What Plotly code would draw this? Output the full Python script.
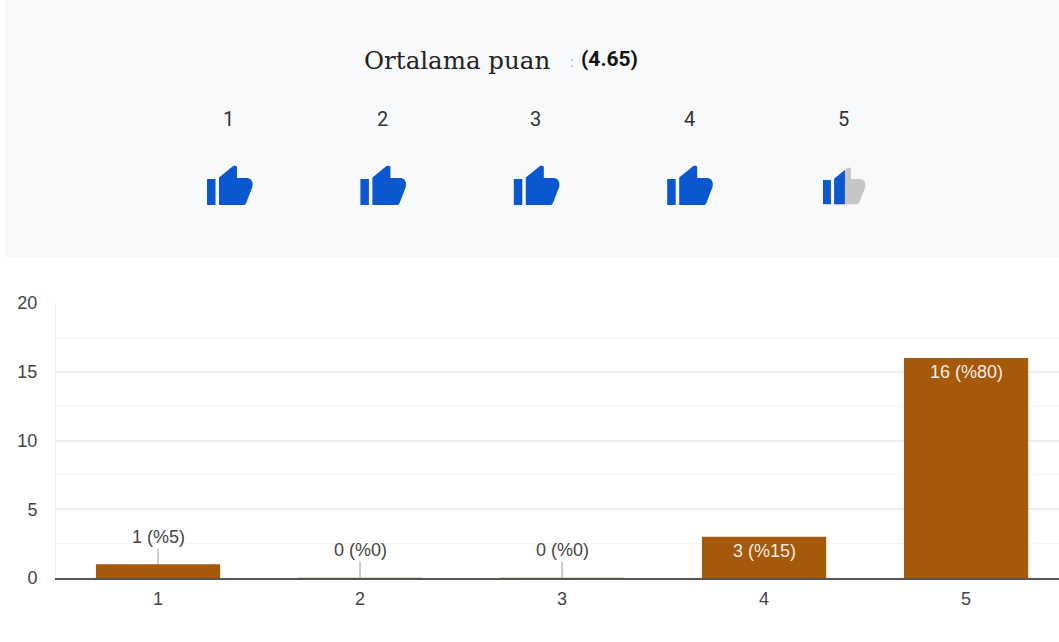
import plotly.graph_objects as go

W, H = 1059, 642
categories = [1, 2, 3, 4, 5]
counts = [1, 0, 0, 3, 16]
percents = [5, 0, 0, 15, 80]
average = 4.65
rating_labels = ["1", "2", "3", "4", "5"]
y_ticks = [0, 5, 10, 15, 20]

BROWN = "#A5590B"
BLUE = "#0B57D0"
GRAY = "#C6C6C6"
TEXT = "#444444"
SANS = "Liberation Sans, Arial, sans-serif"


def px(x):
    return x / W


def py(y):
    return 1 - y / H


# icon outline, in icon-local pixels
STEM = [(0, 13.5), (8.5, 13.5), (8.5, 39.5), (0, 39.5)]
HAND = [(12, 39.5), (12, 12), (25.5, 1), (27.5, 0), (30, 1), (30, 12.5), (41, 12.5),
        (44, 14), (45.5, 17), (45.5, 21), (39, 38), (37.5, 39.5)]


def clip_right(points, limit):
    out = []
    for i, (x0, y0) in enumerate(points):
        x1, y1 = points[(i + 1) % len(points)]
        if x0 <= limit:
            out.append((x0, y0))
        if (x0 <= limit) != (x1 <= limit):
            out.append((limit, y0 + (y1 - y0) * (limit - x0) / (x1 - x0)))
    return out


def poly_shape(points, ox, oy, s, color):
    path = "M " + " L ".join(f"{px(ox + x * s):.5f},{py(oy + y * s):.5f}" for x, y in points) + " Z"
    return dict(type="path", path=path, xref="paper", yref="paper",
                fillcolor=color, line=dict(width=0), layer="above")


shapes = [dict(type="rect", xref="paper", yref="paper", x0=px(5), x1=1, y0=py(257), y1=1,
               fillcolor="#F8F9FB", line=dict(width=0), layer="below")]

for ox in (207, 360.4, 513.8, 667.2):
    shapes.append(poly_shape(STEM, ox, 165.5, 1, BLUE))
    shapes.append(poly_shape(HAND, ox, 165.5, 1, BLUE))

last_s = 0.93
last_x, last_y = 823, 167.5
shapes.append(poly_shape(HAND, last_x, last_y, last_s, GRAY))
shapes.append(poly_shape(STEM, last_x, last_y, last_s, BLUE))
shapes.append(poly_shape(clip_right(HAND, 23.5), last_x, last_y, last_s, BLUE))

annotations = [
    dict(text="Ortalama puan", x=px(362), y=py(61), xref="paper", yref="paper", xanchor="left",
         yanchor="middle", showarrow=False, font=dict(family="DejaVu Serif", size=24.5, color="#222222")),
    dict(text=":", x=px(572), y=py(62), xref="paper", yref="paper", xanchor="center", yanchor="middle",
         showarrow=False, font=dict(family="Roboto", size=15, color="#9AA2AC")),
    dict(text=f"<b>({average})</b>", x=px(579), y=py(59), xref="paper", yref="paper", xanchor="left",
         yanchor="middle", showarrow=False, font=dict(family="Roboto", size=21, color="#111111")),
]
for label, cx in zip(rating_labels, (228, 382, 535, 689, 843)):
    annotations.append(dict(text=label, x=px(cx), y=py(119), xref="paper", yref="paper",
                            xanchor="center", yanchor="middle", showarrow=False,
                            font=dict(family="Roboto", size=20, color="#333333")))

for cat, n, p in zip(categories, counts, percents):
    text = f"{n} (%{p})"
    if n >= 3:
        annotations.append(dict(text=text, x=cat, y=n, xref="x", yref="y", yshift=-14, showarrow=False,
                                font=dict(family=SANS, size=18, color="#F4EDE4")))
    else:
        annotations.append(dict(text=text, x=cat, y=n, xref="x", yref="y", showarrow=True, arrowhead=0,
                                arrowwidth=1, arrowcolor="#999999", ax=0, ay=-27 if n else -28,
                                font=dict(family=SANS, size=18, color=TEXT)))

fig = go.Figure(go.Bar(
    x=categories, y=counts, width=0.615, hoverinfo="skip",
    marker=dict(color=BROWN,
                line=dict(width=[0 if n else 1 for n in counts],
                          color=[BROWN if n else "#DCCBB5" for n in counts])),
))

fig.update_layout(
    width=W, height=H, margin=dict(l=0, r=0, t=0, b=0), autosize=False,
    paper_bgcolor="white", plot_bgcolor="white", showlegend=False,
    shapes=shapes, annotations=annotations,
    xaxis=dict(domain=[px(56), 1], range=[0.495, 5.46], tickvals=categories, automargin=False,
               ticktext=[str(c) for c in categories], showgrid=False, zeroline=False,
               showline=True, linecolor="#555555", linewidth=1.5, ticks="",
               ticklabelstandoff=4, tickfont=dict(family=SANS, size=18, color=TEXT)),
    yaxis=dict(domain=[py(578), py(303)], range=[0, 20], tickvals=y_ticks, showgrid=True, automargin=False,
               gridcolor="#EDEDED", gridwidth=1.5, zeroline=False, showline=True,
               linecolor="#EEEEEE", linewidth=1, ticks="", ticklabelstandoff=14,
               minor=dict(dtick=2.5, tick0=0, showgrid=True, gridcolor="#F6F6F6", gridwidth=1),
               tickfont=dict(family=SANS, size=18, color=TEXT)),
)

fig.write_html("out.html", config=dict(displayModeBar=False),
               post_script="document.body.style.margin='0';document.body.style.overflow='hidden';")
